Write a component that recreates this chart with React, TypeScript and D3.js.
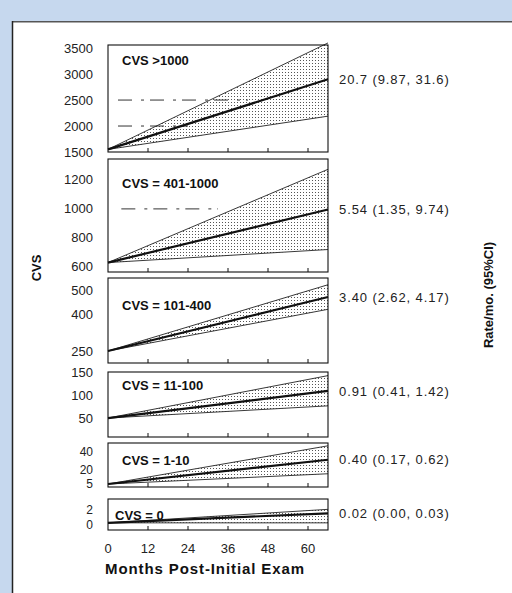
import React from "react";
import * as d3 from "d3";

// chart data
const groupLabels = ["CVS >1000", "CVS = 401-1000", "CVS = 101-400", "CVS = 11-100", "CVS = 1-10", "CVS = 0"];
const rateLabels = [
  "20.7 (9.87, 31.6)",
  "5.54 (1.35, 9.74)",
  "3.40 (2.62, 4.17)",
  "0.91 (0.41, 1.42)",
  "0.40 (0.17, 0.62)",
  "0.02 (0.00, 0.03)",
];
const lineMonths = [0, 66];
const startValues = [1550, 630, 250, 50, 5, 0.3];
const midEnd = [2900, 996, 474, 110, 31, 1.5];
const lowEnd = [2190, 720, 423, 77, 16, 0.3];
const highEnd = [3600, 1273, 525, 144, 46, 2];
const yDomains = [
  [1500, 3560],
  [565, 1344],
  [200, 553],
  [8, 152],
  [1.8, 49],
  [-0.6, 3.3],
];
const yTicks = [
  [1500, 2000, 2500, 3000, 3500],
  [600, 800, 1000, 1200],
  [250, 400, 500],
  [50, 100, 150],
  [5, 20, 40],
  [0, 2],
];
const xTicks = [0, 12, 24, 36, 48, 60];
// faint gridline remnants in the scan: panel, value, from month, to month
const gridPanel = [0, 0, 1];
const gridValue = [2500, 2000, 1000];
const gridFrom = [3, 3, 4];
const gridTo = [42, 24, 33];

// layout
const W = 512;
const H = 593;
const plotLeft = 108;
const plotRight = 328;
const panelTop = [45, 159, 278, 372, 443, 499];
const panelBottom = [152, 272, 363, 437, 487, 530];
const labelY = [65, 188, 310, 390, 465, 520];
const tickFont = [13, 13, 13, 13, 12, 12];
const font = "'Liberation Sans', Arial, Helvetica, sans-serif";

export default function App() {
  const x = d3.scaleLinear().domain([0, 66]).range([plotLeft, plotRight]);

  const panels = groupLabels.map((label, i) => {
    const y = d3.scaleLinear().domain(yDomains[i]).range([panelBottom[i], panelTop[i]]);
    const band = lineMonths.map((m, k) => ({
      m,
      lo: k === 0 ? startValues[i] : lowEnd[i],
      hi: k === 0 ? startValues[i] : highEnd[i],
      mid: k === 0 ? startValues[i] : midEnd[i],
    }));
    const area = d3
      .area<any>()
      .x((d) => x(d.m))
      .y0((d) => y(d.lo))
      .y1((d) => y(d.hi));
    const line = (key: string) =>
      d3
        .line<any>()
        .x((d) => x(d.m))
        .y((d) => y(d[key]))(band) as string;
    const grids = gridPanel
      .map((p, g) => ({ p, g }))
      .filter((o) => o.p === i)
      .map(({ g }) => (
        <line
          key={"g" + g}
          x1={x(gridFrom[g])}
          x2={x(gridTo[g])}
          y1={y(gridValue[g])}
          y2={y(gridValue[g])}
          stroke="#333"
          strokeWidth={1}
          strokeDasharray="14 9 3 6"
        />
      ));
    return (
      <g key={i}>
        <path d={area(band) as string} fill="url(#stipple)" />
        {grids}
        <path d={line("hi")} fill="none" stroke="#222" strokeWidth={0.9} />
        <path d={line("lo")} fill="none" stroke="#222" strokeWidth={0.9} />
        <path d={line("mid")} fill="none" stroke="#111" strokeWidth={2.2} />
        <rect
          x={plotLeft}
          y={panelTop[i]}
          width={plotRight - plotLeft}
          height={panelBottom[i] - panelTop[i]}
          fill="none"
          stroke="#111"
          strokeWidth={1.1}
        />
        {xTicks.slice(1).map((t) => (
          <line
            key={t}
            x1={x(t)}
            x2={x(t)}
            y1={panelBottom[i]}
            y2={panelBottom[i] - 4}
            stroke="#111"
            strokeWidth={1}
          />
        ))}
        {yTicks[i].map((t) => (
          <text
            key={t}
            x={93}
            y={y(t)}
            dy="0.35em"
            textAnchor="end"
            fontSize={tickFont[i]}
            fill="#222"
          >
            {t}
          </text>
        ))}
        <text x={i === 5 ? 115 : 122} y={labelY[i]} fontSize={13} fontWeight="bold" fill="#111">
          {label}
        </text>
        <text
          x={339}
          y={y(midEnd[i])}
          dy="0.35em"
          fontSize={13}
          letterSpacing={0.9}
          fill="#222"
        >
          {rateLabels[i]}
        </text>
      </g>
    );
  });

  return (
    <>
      <style>{`body{margin:0;overflow:hidden}`}</style>
      <svg
        width={W}
        height={H}
        style={{ position: "absolute", left: 0, top: 0, fontFamily: font, display: "block" }}
      >
        <defs>
          <pattern id="stipple" width={3} height={3} patternUnits="userSpaceOnUse">
            <rect width={3} height={3} fill="#fff" />
            <rect x={0} y={0} width={1} height={1} fill="#555" />
          </pattern>
        </defs>
        <rect width={W} height={H} fill="#c6d8ee" />
        <rect x={12} y={21} width={W - 12} height={H - 21} fill="#fff" />
        <line x1={12} x2={W} y1={21.5} y2={21.5} stroke="#555" strokeWidth={1} />
        <line x1={12} x2={W} y1={22.5} y2={22.5} stroke="#aaa" strokeWidth={1} />
        <line x1={12.5} x2={12.5} y1={21} y2={H} stroke="#222" strokeWidth={1.5} />
        {panels}
        {xTicks.map((t) => (
          <text key={t} x={x(t)} y={548} dy="0.35em" textAnchor="middle" fontSize={13} fill="#222">
            {t}
          </text>
        ))}
        <text
          x={205}
          y={569}
          dy="0.35em"
          textAnchor="middle"
          fontSize={15}
          letterSpacing={0.9}
          fontWeight="bold"
          fill="#111"
        >
          Months Post-Initial Exam
        </text>
        <text
          transform="translate(36,268) rotate(-90)"
          textAnchor="middle"
          dy="0.35em"
          fontSize={13}
          fontWeight="bold"
          fill="#111"
        >
          CVS
        </text>
        <text
          transform="translate(488,295) rotate(-90)"
          textAnchor="middle"
          dy="0.35em"
          fontSize={13}
          fontWeight="bold"
          fill="#111"
        >
          Rate/mo. (95%CI)
        </text>
      </svg>
    </>
  );
}
